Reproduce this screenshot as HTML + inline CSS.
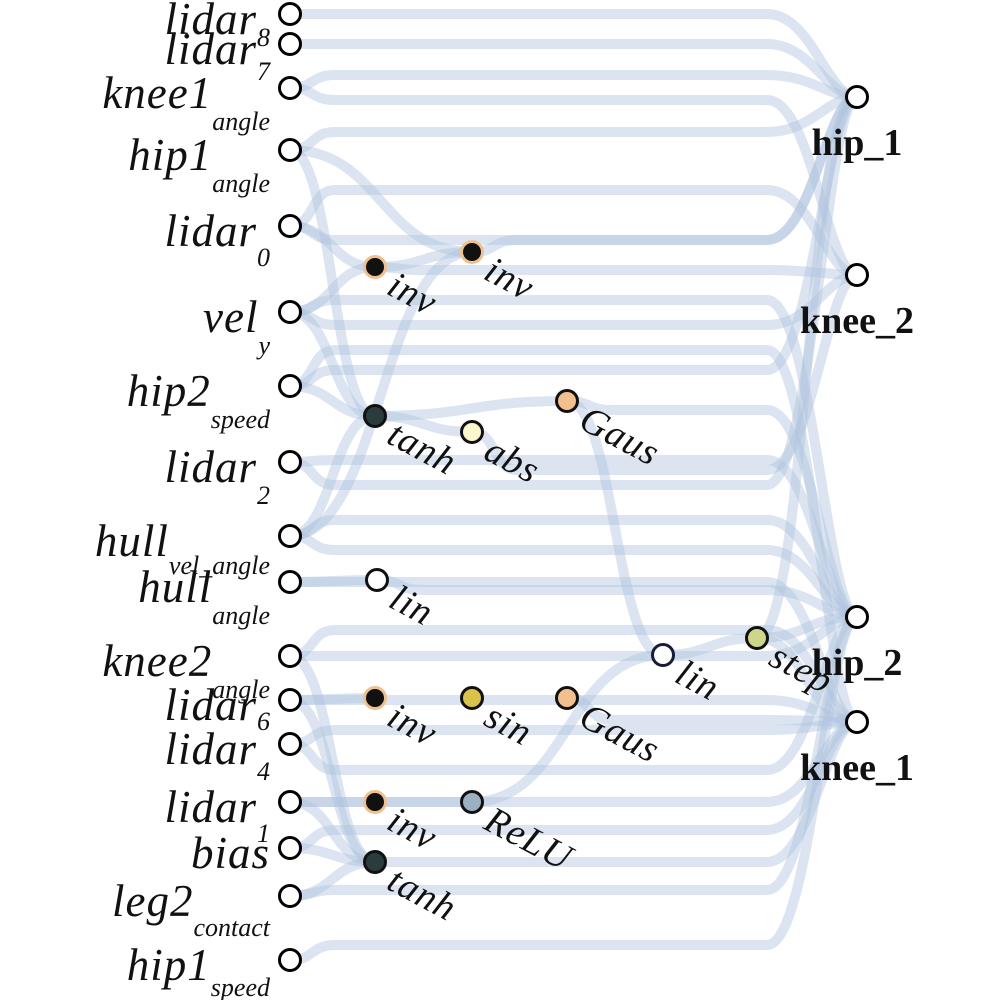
<!DOCTYPE html>
<html><head><meta charset="utf-8"><style>
html,body{margin:0;padding:0;background:#fff;width:1000px;height:1000px;overflow:hidden}
svg{display:block}
text{font-family:"Liberation Serif",serif;}
.in{font-style:italic;font-size:45px;fill:#111;letter-spacing:1px}
.sub{font-size:26px;letter-spacing:0}
.out{font-weight:bold;font-size:38px;fill:#111}
.hl{font-style:italic;font-size:38px;fill:#111;letter-spacing:1px}
</style></head><body>
<svg id="s" width="1000" height="1000" viewBox="0 0 1000 1000">
<g id="edges" fill="none" stroke="rgb(176,196,222)" stroke-opacity="0.45" stroke-width="10" stroke-linecap="round"></g>
<g id="nodes"></g>
<g id="labels"></g>
</svg>
<script>
var ns="http://www.w3.org/2000/svg";
var E=document.getElementById('edges'),N=document.getElementById('nodes'),L=document.getElementById('labels');
function path(d){var p=document.createElementNS(ns,'path');p.setAttribute('d',d);E.appendChild(p);}
function edge(x1,y1,x2,y2,lv){
 if(lv===undefined){var m=(x1+x2)/2;path('M'+x1+' '+y1+' C'+m+' '+y1+' '+m+' '+y2+' '+x2+' '+y2);return;}
 var a=x1+45,b=x2-90;
 path('M'+x1+' '+y1+' C'+(x1+25)+' '+y1+' '+(x1+20)+' '+lv+' '+a+' '+lv+' L'+b+' '+lv+' C'+(x2-45)+' '+lv+' '+(x2-30)+' '+y2+' '+x2+' '+y2);
}
var IX=290;
var O1=[857,97],O2=[857,275],O3=[857,617],O4=[857,722];
var H={inv1:[375,267],inv2:[472,252],tanh1:[375,416],abs:[472,432],gaus1:[567,401],lin1:[377,580],inv3:[375,698],sin:[472,698],gaus2:[567,698],lin2:[663,655],step:[757,638],inv4:[375,802],relu:[472,802],tanh2:[375,862]};
var ie=[[14,O1,14],[44,O1,44],[88,O1,75],[88,O2,100],[150,O1,132],[226,O2,190],[226,O1,240],[312,O3,300],[386,O4,350],[386,O1,370],[462,O1,485],[462,O3,460],[536,O3,550],[582,O4,582],[656,O3,656],[656,O4,630],[700,O4,700],[744,O4,730],[802,O4,802],[848,O4,830],[896,O3,890],[960,O3,945],[312,O2,325],[744,O3,770]];
ie.forEach(function(e){edge(IX,e[0],e[1][0],e[1][1],e[2]);});
function he(a,b,lv){edge(a[0],a[1],b[0],b[1],lv);}
var I=function(y){return [IX,y]};
he(I(150),H.inv2);he(I(150),H.tanh1);he(I(312),H.inv1);he(I(312),H.tanh1);he(I(226),H.inv1);
he(H.inv1,H.inv2);he(I(536),H.inv2);he(I(536),H.tanh1);he(H.inv2,O1,240);he(H.inv1,O2,270);
he(H.tanh1,H.gaus1);he(I(386),H.tanh1);he(H.abs,O2,470);he(H.tanh1,H.abs);
he(H.gaus1,H.lin2);he(H.gaus1,O3,410);
he(I(582),H.lin1);he(H.lin1,O3,590);
he(I(700),H.inv3);he(H.gaus2,O4,720);he(H.relu,H.lin2);he(H.lin2,H.step);he(H.step,O1);he(H.step,O3);he(H.step,O4);
he(I(802),H.inv4);he(H.inv4,H.relu);
he(I(656),H.tanh2);he(I(700),H.tanh2);he(I(802),H.tanh2);he(I(848),H.tanh2);he(I(896),H.tanh2);he(H.tanh2,O4,862);
he(I(536),O3,520);
function node(x,y,fill,stroke,r){var c=document.createElementNS(ns,'circle');c.setAttribute('cx',x);c.setAttribute('cy',y);c.setAttribute('r',r||10.5);c.setAttribute('fill',fill);c.setAttribute('stroke',stroke);c.setAttribute('stroke-width',3);N.appendChild(c);}
function txt(x,y,cls,html,anchor,rot){var t=document.createElementNS(ns,'text');t.setAttribute('x',x);t.setAttribute('y',y);t.setAttribute('class',cls);if(anchor)t.setAttribute('text-anchor',anchor);if(rot)t.setAttribute('transform','rotate('+rot+' '+x+' '+y+')');t.innerHTML=html;L.appendChild(t);}
var ins=[[14,'lidar','8',12],[44,'lidar','7',16],[88,'knee1','angle',22],[150,'hip1','angle',22],[226,'lidar','0',20],[312,'vel','y',22],[386,'hip2','speed',22],[462,'lidar','2',22],[536,'hull','vel_angle',18],[582,'hull','angle',22],[656,'knee2','angle',22],[700,'lidar','6',10],[744,'lidar','4',16],[802,'lidar','1',20],[848,'bias','',0],[896,'leg2','contact',20],[960,'hip1','speed',16]];
ins.forEach(function(a){node(IX,a[0],'#fff','#000');
 var sub=a[2]?'<tspan class="sub" dy="'+a[3]+'">'+a[2]+'</tspan>':'';
 txt(270,a[0]+20,'in',a[1]+sub,'end');});
var hs=[['inv1','#111','#f0c090','inv'],['inv2','#111','#f0c090','inv'],['tanh1','#2a3c3c','#111','tanh'],['abs','#fbf6cc','#111','abs'],['gaus1','#f2c08e','#111','Gaus'],['lin1','#fff','#111','lin'],['inv3','#111','#f0c090','inv'],['sin','#d8c24a','#111','sin'],['gaus2','#f2c08e','#111','Gaus'],['lin2','#fff','#1a1a3a','lin'],['step','#cdd68a','#111','step'],['inv4','#111','#f0c090','inv'],['relu','#9bb0c0','#111','ReLU'],['tanh2','#2a3c3c','#111','tanh']];
hs.forEach(function(h){var p=H[h[0]];node(p[0],p[1],h[1],h[2]);txt(p[0]+10,p[1]+26,'hl',h[3],'start',28);});
[[O1,'hip_1'],[O2,'knee_2'],[O3,'hip_2'],[O4,'knee_1']].forEach(function(o){node(o[0][0],o[0][1],'#fff','#000');txt(o[0][0],o[0][1]+58,'out',o[1],'middle');});
</script>
</body></html>
